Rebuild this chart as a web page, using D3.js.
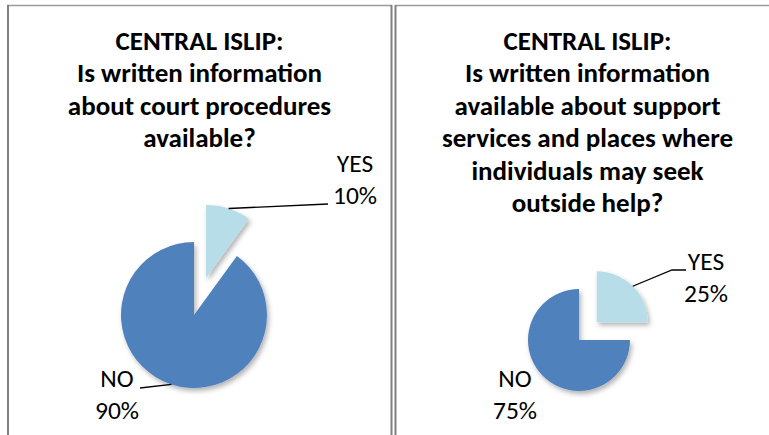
<!DOCTYPE html>
<html>
<head>
<meta charset="utf-8">
<script src="https://cdn.jsdelivr.net/npm/d3@7"></script>
<style>
  body { margin: 0; background: #fff; }
  svg { display: block; }
  .title { font-family: Carlito, Lato, "Liberation Sans", sans-serif; font-weight: bold; fill: #000; }
  .lbl { font-family: Carlito, Lato, "Liberation Sans", sans-serif; fill: #000; }
</style>
</head>
<body>
<div id="chart"></div>
<script>
// datos de las dos tortas
const categories = ["YES", "NO"];
const leftValues = [10, 90];
const rightValues = [25, 75];
const leftTitle = ["CENTRAL ISLIP:", "Is written information", "about court procedures", "available?"];
const rightTitle = ["CENTRAL ISLIP:", "Is written information", "available about support", "services and places where", "individuals may seek", "outside help?"];
const colors = ["#b7dde8", "#4f81bd"];

const width = 769, height = 435;

const svg = d3.select("#chart").append("svg")
  .attr("width", width)
  .attr("height", height);

const defs = svg.append("defs");
defs.append("filter")
  .attr("id", "shadow")
  .attr("x", "-20%").attr("y", "-20%")
  .attr("width", "150%").attr("height", "150%")
  .append("feDropShadow")
  .attr("dx", 2).attr("dy", 3)
  .attr("stdDeviation", 2.5)
  .attr("flood-color", "#000")
  .attr("flood-opacity", 0.3);

// marcos de los paneles
const frame = svg.append("g");
frame.append("line").attr("x1", 7).attr("x2", 392).attr("y1", 5.5).attr("y2", 5.5)
  .attr("stroke", "#9a9a9a").attr("stroke-width", 1.5);
frame.append("line").attr("x1", 395).attr("x2", width).attr("y1", 5.5).attr("y2", 5.5)
  .attr("stroke", "#9a9a9a").attr("stroke-width", 1.5);
[8, 391.5, 395.5].forEach(x => {
  frame.append("line").attr("x1", x).attr("x2", x).attr("y1", 5).attr("y2", height)
    .attr("stroke", "#808080").attr("stroke-width", 2);
});

function drawPanel(cfg) {
  const g = svg.append("g");

  // titulo
  g.append("text")
    .attr("class", "title")
    .attr("text-anchor", "middle")
    .style("font-size", cfg.titleSize + "px")
    .selectAll("tspan")
    .data(cfg.title)
    .enter()
    .append("tspan")
    .attr("x", cfg.titleX)
    .attr("y", (d, i) => 50 + i * 32.4)
    .text(d => d);

  const data = categories.map((c, i) => ({ cat: c, value: cfg.values[i], color: colors[i] }));
  const pie = d3.pie().sort(null).value(d => d.value);
  const arc = d3.arc().innerRadius(0).outerRadius(cfg.r);
  const arcs = pie(data);

  const pieG = g.append("g")
    .attr("transform", `translate(${cfg.cx},${cfg.cy})`)
    .attr("filter", "url(#shadow)");

  arcs.forEach((a, i) => {
    const mid = (a.startAngle + a.endAngle) / 2;
    const off = a.data.cat === "YES" ? cfg.explode : 0;
    a.dx = off * Math.sin(mid);
    a.dy = -off * Math.cos(mid);
    a.mid = mid;
  });

  pieG.selectAll("path")
    .data(arcs)
    .enter()
    .append("path")
    .attr("d", arc)
    .attr("transform", d => `translate(${d.dx},${d.dy})`)
    .attr("fill", d => d.data.color);

  // etiquetas con lineas guia
  arcs.forEach(a => {
    const lab = cfg.labels[a.data.cat];
    const sx = cfg.cx + a.dx + cfg.r * lab.edge * Math.sin(a.mid);
    const sy = cfg.cy + a.dy - cfg.r * lab.edge * Math.cos(a.mid);
    const pts = [[sx, sy]].concat(lab.line);
    g.append("path")
      .attr("d", d3.line()(pts))
      .attr("fill", "none")
      .attr("stroke", "#000")
      .attr("stroke-width", 1.3);
    const t = g.append("text")
      .attr("class", "lbl")
      .attr("text-anchor", "middle")
      .style("font-size", cfg.labelSize + "px");
    t.append("tspan").attr("x", lab.x).attr("y", lab.y).text(a.data.cat);
    t.append("tspan").attr("x", lab.x).attr("y", lab.y + 32).text(a.data.value + "%");
  });
}

drawPanel({
  title: leftTitle, titleX: 199.5, titleSize: 27,
  values: leftValues, cx: 194, cy: 315, r: 73, explode: 39, labelSize: 25.5,
  labels: {
    YES: { x: 355, y: 172, edge: 1, line: [[328, 204]] },
    NO: { x: 117, y: 387, edge: 1, line: [[140, 388]] }
  }
});

drawPanel({
  title: rightTitle, titleX: 587.5, titleSize: 27,
  values: rightValues, cx: 579, cy: 340, r: 51, explode: 25, labelSize: 25.5,
  labels: {
    YES: { x: 706, y: 270, edge: 1, line: [[672, 270], [686, 270]] },
    NO: { x: 515, y: 387, edge: 1, line: [] }
  }
});
</script>
</body>
</html>
